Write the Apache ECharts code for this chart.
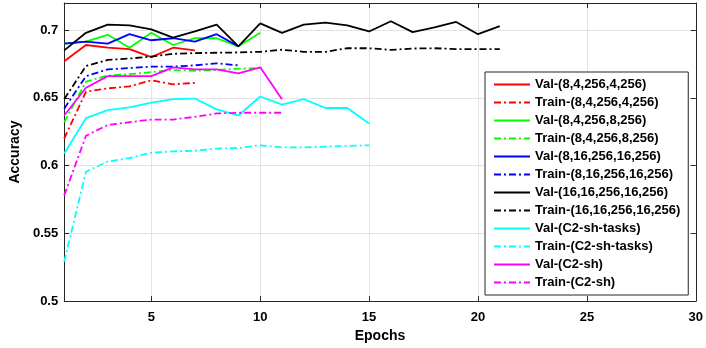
<!DOCTYPE html>
<html>
<head>
<meta charset="utf-8">
<script src="https://cdn.jsdelivr.net/npm/echarts@6/dist/echarts.min.js"></script>
<style>
  html, body { margin: 0; padding: 0; background: #fff; }
  #chart { width: 706px; height: 348px; }
</style>
</head>
<body>
<div id="chart"></div>
<script>
var xTicks = [5, 10, 15, 20, 25, 30];
var yTicks = [0.5, 0.55, 0.6, 0.65, 0.7];

var names = [
    'Val-(8,4,256,4,256)', 'Train-(8,4,256,4,256)',
    'Val-(8,4,256,8,256)', 'Train-(8,4,256,8,256)',
    'Val-(8,16,256,16,256)', 'Train-(8,16,256,16,256)',
    'Val-(16,16,256,16,256)', 'Train-(16,16,256,16,256)',
    'Val-(C2-sh-tasks)', 'Train-(C2-sh-tasks)',
    'Val-(C2-sh)', 'Train-(C2-sh)'
];
var colors = ['#ff0000', '#ff0000', '#00ff00', '#00ff00', '#0000ff', '#0000ff',
              '#000000', '#000000', '#00ffff', '#00ffff', '#ff00ff', '#ff00ff'];

var val_8_4_4 = [0.677, 0.689, 0.687, 0.686, 0.680, 0.687, 0.685];
var train_8_4_4 = [0.620, 0.6545, 0.657, 0.6585, 0.663, 0.660, 0.661];
var val_8_4_8 = [0.690, 0.6915, 0.6965, 0.687, 0.698, 0.689, 0.694, 0.694, 0.688, 0.698];
var train_8_4_8 = [0.632, 0.662, 0.6665, 0.6675, 0.669, 0.6705, 0.670, 0.6705, 0.6715, 0.672];
var val_8_16 = [0.690, 0.6915, 0.690, 0.697, 0.6925, 0.694, 0.6915, 0.697, 0.688];
var train_8_16 = [0.642, 0.666, 0.671, 0.672, 0.673, 0.673, 0.674, 0.6755, 0.674];
var val_16_16 = [0.685, 0.698, 0.704, 0.7035, 0.7005, 0.6945, 0.699, 0.704, 0.688, 0.705,
                 0.698, 0.704, 0.7055, 0.7035, 0.699, 0.7065, 0.6985, 0.702, 0.706, 0.697, 0.703];
var train_16_16 = [0.649, 0.6735, 0.678, 0.679, 0.6805, 0.6825, 0.683, 0.6833, 0.6835, 0.684,
                   0.6855, 0.684, 0.684, 0.6866, 0.6866, 0.6854, 0.6864, 0.6866, 0.686, 0.686, 0.686];
var val_c2_tasks = [0.609, 0.635, 0.641, 0.643, 0.6465, 0.649, 0.6495, 0.6415, 0.637, 0.651,
                    0.645, 0.649, 0.6425, 0.6425, 0.631];
var train_c2_tasks = [0.529, 0.5955, 0.603, 0.6055, 0.6095, 0.6105, 0.611, 0.6125, 0.613, 0.615,
                      0.6135, 0.6135, 0.614, 0.6145, 0.615];
var val_c2 = [0.637, 0.6575, 0.666, 0.666, 0.666, 0.6725, 0.671, 0.671, 0.668, 0.6725, 0.649];
var train_c2 = [0.578, 0.622, 0.630, 0.632, 0.634, 0.634, 0.636, 0.6385, 0.639, 0.639, 0.639];

var allData = [val_8_4_4, train_8_4_4, val_8_4_8, train_8_4_8, val_8_16, train_8_16,
               val_16_16, train_16_16, val_c2_tasks, train_c2_tasks, val_c2, train_c2];

var font = 'Liberation Sans, Arial, sans-serif';
var axisColor = '#262626';

document.addEventListener('DOMContentLoaded', function () {
    var chart = echarts.init(document.getElementById('chart'), null, { renderer: 'canvas' });

    var series = allData.map(function (vals, i) {
        var isTrain = i % 2 === 1;
        return {
            name: names[i],
            type: 'line',
            symbol: 'none',
            animation: false,
            data: vals.map(function (v, k) { return [k + 1, v]; }),
            lineStyle: {
                color: colors[i],
                width: 1.8,
                type: isTrain ? [7, 3, 2, 3] : 'solid'
            },
            itemStyle: { color: colors[i] }
        };
    });

    var tickStyle = { inside: true, length: 5, lineStyle: { color: axisColor } };

    chart.setOption({
        animation: false,
        grid: { left: 51, right: 7, top: 3, bottom: 44 },
        legend: {
            orient: 'vertical',
            left: 485,
            top: 72,
            data: names,
            itemWidth: 36,
            itemHeight: 14,
            itemGap: 5,
            padding: [6, 8, 6, 8],
            backgroundColor: '#fff',
            borderColor: axisColor,
            borderWidth: 1,
            borderRadius: 0,
            itemStyle: { opacity: 0 },
            textStyle: { fontFamily: font, fontWeight: 'bold', fontSize: 13, color: '#000' }
        },
        xAxis: [{
            type: 'value',
            min: 1, max: 30,
            name: 'Epochs',
            nameLocation: 'middle',
            nameGap: 27,
            nameTextStyle: { fontFamily: font, fontWeight: 'bold', fontSize: 14, color: '#000' },
            axisLine: { lineStyle: { color: axisColor } },
            axisTick: Object.assign({ customValues: xTicks }, tickStyle),
            axisLabel: { customValues: xTicks, margin: 10, fontFamily: font, fontWeight: 'bold', fontSize: 13, color: '#000' },
            splitLine: { show: true, lineStyle: { color: '#e3e3e3' } }
        }, {
            type: 'value',
            position: 'top',
            min: 1, max: 30,
            axisLine: { show: true, lineStyle: { color: axisColor } },
            axisTick: Object.assign({ customValues: xTicks }, tickStyle),
            axisLabel: { show: false },
            splitLine: { show: false }
        }],
        yAxis: [{
            type: 'value',
            min: 0.5, max: 0.72,
            name: 'Accuracy',
            nameLocation: 'middle',
            nameGap: 32,
            nameTextStyle: { fontFamily: font, fontWeight: 'bold', fontSize: 14, color: '#000' },
            axisLine: { show: true, lineStyle: { color: axisColor } },
            axisTick: Object.assign({ customValues: yTicks }, tickStyle),
            axisLabel: { customValues: yTicks, margin: 6, fontFamily: font, fontWeight: 'bold', fontSize: 13, color: '#000' },
            splitLine: { show: true, lineStyle: { color: '#e3e3e3' } }
        }, {
            type: 'value',
            position: 'right',
            min: 0.5, max: 0.72,
            axisLine: { show: true, lineStyle: { color: axisColor } },
            axisTick: Object.assign({ customValues: yTicks }, tickStyle),
            axisLabel: { show: false },
            splitLine: { show: false }
        }],
        series: series
    });
});
</script>
</body>
</html>
